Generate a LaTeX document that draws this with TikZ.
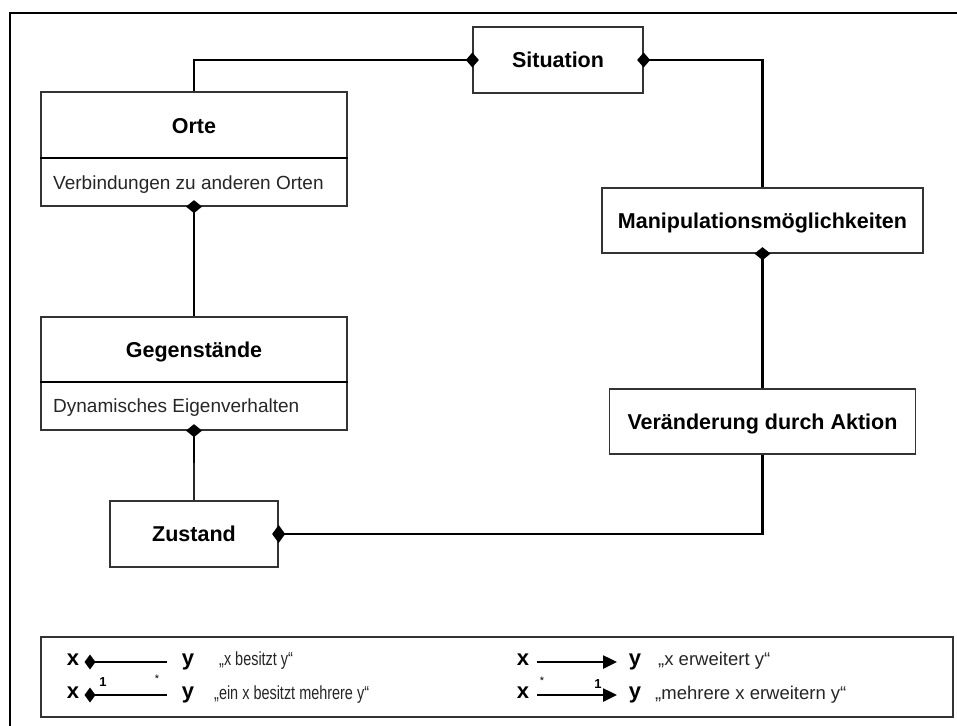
\documentclass[tikz,border=0pt]{standalone}
\usepackage{fontspec}
\usepackage{graphicx}
\setmainfont{Liberation Sans}
\usetikzlibrary{arrows.meta}
\newcommand\diaH[1]{\fill (#1) +(-6.5,0) -- +(0,-7.5) -- +(6.5,0) -- +(0,7.5) -- cycle;}
\newcommand\diaZ[1]{\fill (#1) +(-6.5,0) -- +(0,-9) -- +(6.5,0) -- +(0,9) -- cycle;}
\newcommand\diaV[1]{\fill (#1) +(-8,0) -- +(0,-6.5) -- +(8,0) -- +(0,6.5) -- cycle;}
\newcommand\diaL[1]{\fill (#1) +(-5.5,0) -- +(0,-7.5) -- +(5.5,0) -- +(0,7.5) -- cycle;}
\newcommand\narrow[1]{\scalebox{0.76}[1]{#1}}
\begin{document}
\begin{tikzpicture}[x=1pt,y=-1pt,
  box/.style={draw=black!80,line width=1.3pt,inner sep=0pt,font=\fontsize{21.5}{24}\selectfont\bfseries,text height=15.4pt,text depth=0pt},
  ttl/.style={inner sep=0pt,font=\fontsize{21.5}{24}\selectfont\bfseries,text height=15.4pt,text depth=0pt},
  sub/.style={anchor=west,inner sep=0pt,font=\fontsize{19}{22}\selectfont,text height=13.6pt,text depth=0pt,text=black!85},
  conn/.style={line width=2.5pt},
  thinconn/.style={line width=1.3pt,black!85},
  divider/.style={line width=2.2pt},
  frame/.style={line width=2.4pt},
  legbox/.style={draw=black!80,line width=1.3pt,inner sep=0pt},
  lsym/.style={inner sep=0pt,font=\fontsize{22}{24}\selectfont\bfseries,text height=11.4pt,text depth=0pt},
  ltxt/.style={anchor=west,inner sep=0pt,font=\fontsize{19}{21}\selectfont,text height=9.9pt,text depth=0pt,text=black!85},
  rtxt/.style={anchor=west,inner sep=0pt,font=\fontsize{18.5}{21}\selectfont,text height=9.6pt,text depth=0pt,text=black!85},
  lbl/.style={inner sep=0pt,font=\fontsize{13}{15}\selectfont\bfseries},
  star/.style={inner sep=0pt,font=\fontsize{11}{13}\selectfont}]
\useasboundingbox (0,0) rectangle (957,725);
\clip (0,0) rectangle (957,725);
\fill[white] (0,0) rectangle (957,725);
\draw[frame] (10,740) -- (10,13) -- (970,13);

% boxes
\node[box,minimum width=170pt,minimum height=66pt] (sit) at (558,60) {Situation};
\node[box,minimum width=321pt,minimum height=65pt] (manip) at (762.5,220.5) {Manipulationsmöglichkeiten};
\node[box,minimum width=306pt,minimum height=65pt] (ver) at (762.5,421.5) {Veränderung durch Aktion};
\node[box,minimum width=168pt,minimum height=66pt] (zus) at (194,534) {Zustand};

\node[box,minimum width=306pt,minimum height=114pt] (orte) at (194,149) {};
\node[ttl] (orteT) at (194,125.5) {Orte};
\node[sub] (orteS) at (53,183) {Verbindungen zu anderen Orten};
\draw[divider] ([yshift=49pt]orte.south west) -- ([yshift=49pt]orte.south east);

\node[box,minimum width=306pt,minimum height=113pt] (geg) at (194,373.5) {};
\node[ttl] (gegT) at (194,349.5) {Gegenstände};
\node[sub] (gegS) at (53,405.5) {Dynamisches Eigenverhalten};
\draw[divider] ([yshift=49pt]geg.south west) -- ([yshift=49pt]geg.south east);

% connectors
\draw[conn] (orte.north) |- (sit.west);
\draw[conn] (sit.east) -| (manip.north);
\draw[conn] (orte.south) -- (geg.north);
\draw[conn] (manip.south) -- (ver.north);
\draw[conn] (ver.south) |- (zus.east);
\coordinate (gz) at (194,463);
\draw[conn] (geg.south) -- (gz);
\draw[thinconn] (gz) -- (zus.north);

\diaH{sit.west}
\diaH{sit.east}
\diaV{orte.south}
\diaV{manip.south}
\diaV{geg.south}
\diaZ{zus.east}

% legend
\node[legbox,minimum width=912pt,minimum height=80pt] (leg) at (497,677) {};

\node[lsym] (lx1) at (73,660) {x};
\node[lsym] (ly1) at (188,660) {y};
\coordinate (la1) at (90,662);
\coordinate (lb1) at (167,662);
\draw[conn] (la1) -- (lb1);
\diaL{la1}
\node[ltxt] (lt1) at (219,661) {\narrow{„x besitzt y“}};

\node[lsym] (lx2) at (73,693) {x};
\node[lsym] (ly2) at (188,693) {y};
\coordinate (la2) at (90,695);
\coordinate (lb2) at (167,695);
\draw[conn] (la2) -- (lb2);
\diaL{la2}
\node[lbl] (l1a) at (103,682) {1};
\node[star] (l1b) at (157,679) {*};
\node[ltxt] (lt2) at (214,695) {\narrow{„ein x besitzt mehrere y“}};

\node[lsym] (rx1) at (523,660) {x};
\node[lsym] (ry1) at (635,660) {y};
\coordinate (ra1) at (537,662);
\coordinate (rb1) at (617,662);
\draw[conn,-{Triangle[length=14pt,width=13pt]}] (ra1) -- (rb1);
\node[rtxt] (rt1) at (658,661) {„x erweitert y“};

\node[lsym] (rx2) at (523,693) {x};
\node[lsym] (ry2) at (635,693) {y};
\coordinate (ra2) at (537,695);
\coordinate (rb2) at (617,695);
\draw[conn,-{Triangle[length=14pt,width=13pt]}] (ra2) -- (rb2);
\node[star] (r1a) at (542,681) {*};
\node[lbl] (r1b) at (598,684) {1};
\node[rtxt] (rt2) at (655,695) {„mehrere x erweitern y“};
\end{tikzpicture}
\end{document}
